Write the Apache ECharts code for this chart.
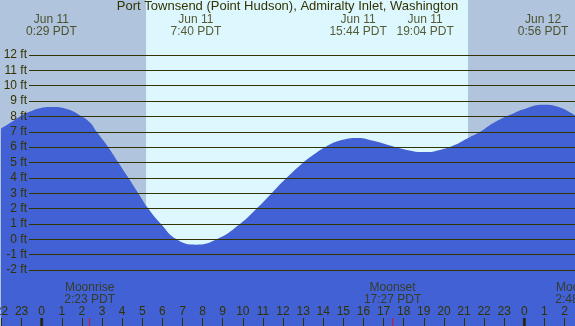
<!DOCTYPE html>
<html>
<head>
<meta charset="utf-8">
<script src="https://cdn.jsdelivr.net/npm/echarts@6/dist/echarts.min.js"></script>
<style>
  html, body { margin: 0; padding: 0; background: #fff; }
  #chart { width: 575px; height: 326px; }
</style>
</head>
<body>
<div id="chart"></div>
<script>
/* global echarts */
// tide height (ft), hours from Jun 11 0:00 PDT
const tideHours = [-2.07, -1.58, -1.08, -0.58, -0.08, 0.48, 1.24, 1.99, 2.40, 2.73, 3.31, 3.81, 4.31, 4.80, 5.30, 5.93, 6.71, 7.67,
    8.70, 9.86, 10.69, 11.44, 12.18, 13.01, 13.51, 14.09, 14.83, 15.73, 16.49, 17.32, 18.15, 19.07, 19.81, 20.47, 21.21,
    21.80, 22.46, 23.29, 24.12, 24.93, 25.77, 26.52];
const tideFeet = [7.18, 7.57, 8.0, 8.32, 8.54, 8.61, 8.48, 8.0, 7.6, 7.0, 6.0, 5.0, 4.0, 3.0, 2.0, 1.0, 0.0, -0.35,
    0.0, 1.0, 2.0, 3.0, 4.0, 5.0, 5.5, 6.0, 6.43, 6.6, 6.41, 6.1, 5.82, 5.68, 5.82, 6.1, 6.6,
    7.0, 7.57, 8.11, 8.54, 8.76, 8.58, 8.05];

const eventHours = [0.483, 7.667, 15.733, 19.067, 24.933];
const eventLabels = ['Jun 11\n0:29 PDT', 'Jun 11\n7:40 PDT', 'Jun 11\n15:44 PDT', 'Jun 11\n19:04 PDT', 'Jun 12\n0:56 PDT'];

const moonHours = [2.383, 17.45, 26.8];
const moonLabels = ['Moonrise\n2:23 PDT', 'Moonset\n17:27 PDT', 'Moonrise\n2:48 PDT'];

const sunHours = [5.19, 21.2];     // sunrise, sunset
const midnightHours = [0, 24];
const feetMin = -2, feetMax = 12;
const hourMin = -2, hourMax = 26.5;

const title = 'Port Townsend (Point Hudson), Admiralty Inlet, Washington';

const W = 575, H = 326;
const lineTop = 55, lineBottom = 270;          // pixel rows of 12 ft and -2 ft
const pxPerFt = (lineBottom - lineTop) / (feetMax - feetMin);
const yTop = feetMax + lineTop / pxPerFt;
const yBottom = feetMin - (H - lineBottom) / pxPerFt;
const zeroX = 41.7, pxPerHour = 20.11;
const gridLeft = zeroX + hourMin * pxPerHour;
const gridRight = W - (zeroX + hourMax * pxPerHour);

const ink = '#333300';
const font = 'Liberation Sans, Arial, sans-serif';

const chart = echarts.init(document.getElementById('chart'));

const option = {
    animation: false,
    backgroundColor: '#b0c4de',
    title: {
        text: title,
        left: 'center',
        top: 0,
        padding: 0,
        textStyle: { color: ink, fontSize: 13, fontWeight: 'normal', fontFamily: font }
    },
    grid: [
        { left: gridLeft, right: gridRight, top: 0, bottom: 0, outerBoundsMode: 'none' },
        { left: 29, right: 0, top: lineTop, bottom: H - lineBottom, outerBoundsMode: 'none' }
    ],
    xAxis: [
        {
            type: 'value', gridIndex: 0, min: hourMin, max: hourMax, interval: 1, z: 5,
            axisLine: { show: false, onZero: false },
            splitLine: { show: false },
            axisTick: { inside: true, length: 8, lineStyle: { color: ink, width: 1 } },
            axisLabel: {
                inside: true, margin: 8, color: ink, fontSize: 12, fontFamily: font,
                formatter: v => ((v % 24) + 24) % 24
            }
        },
        { type: 'value', gridIndex: 1, min: 0, max: 1, show: false }
    ],
    yAxis: [
        { type: 'value', gridIndex: 0, min: yBottom, max: yTop, show: false },
        {
            type: 'value', gridIndex: 1, min: feetMin, max: feetMax, interval: 1, z: 5,
            axisLine: { show: false },
            axisTick: { show: false },
            splitLine: { show: true, lineStyle: { color: ink, width: 1 } },
            axisLabel: { margin: 2, color: ink, fontSize: 12, fontFamily: font, formatter: v => v + ' ft' }
        }
    ],
    series: [
        {
            type: 'line', xAxisIndex: 0, yAxisIndex: 0, data: [], z: 1,
            markArea: {
                silent: true,
                itemStyle: { color: '#ddf7ff' },
                data: [[{ xAxis: sunHours[0] }, { xAxis: sunHours[1] }]]
            }
        },
        {
            type: 'line', xAxisIndex: 0, yAxisIndex: 0, z: 2,
            data: tideHours.map((h, i) => [h, tideFeet[i]]),
            smooth: 0.5,
            clip: false,
            showSymbol: false,
            lineStyle: { width: 0 },
            areaStyle: { color: '#4161d4', opacity: 1, origin: 'start' }
        },
        { type: 'line', xAxisIndex: 1, yAxisIndex: 1, data: [] },
        {
            type: 'scatter', xAxisIndex: 0, yAxisIndex: 0, z: 10, clip: false,
            symbolSize: 0,
            data: eventHours.map((h, i) => ({ value: [h, yTop], label: { formatter: eventLabels[i] } })),
            label: { show: true, position: 'bottom', distance: 14, color: ink, fontSize: 12, lineHeight: 12, fontFamily: font, align: 'center' }
        },
        {
            type: 'scatter', xAxisIndex: 0, yAxisIndex: 0, z: 10, clip: false,
            symbolSize: 0,
            data: moonHours.map((h, i) => ({ value: [h, yBottom], label: { formatter: moonLabels[i] } })),
            label: { show: true, position: 'top', distance: 20, color: ink, fontSize: 12, lineHeight: 12, fontFamily: font, align: 'center' }
        },
        {
            type: 'scatter', xAxisIndex: 0, yAxisIndex: 0, z: 10, clip: false,
            symbol: 'rect', symbolSize: [3, 16],
            itemStyle: { color: '#222200' },
            data: midnightHours.map(h => [h, yBottom])
        },
        {
            type: 'scatter', xAxisIndex: 0, yAxisIndex: 0, z: 10, clip: false,
            symbol: 'rect', symbolSize: [1, 16],
            itemStyle: { color: '#ff0000' },
            data: moonHours.map(h => [h, yBottom])
        }
    ]
};

chart.setOption(option);
</script>
</body>
</html>
